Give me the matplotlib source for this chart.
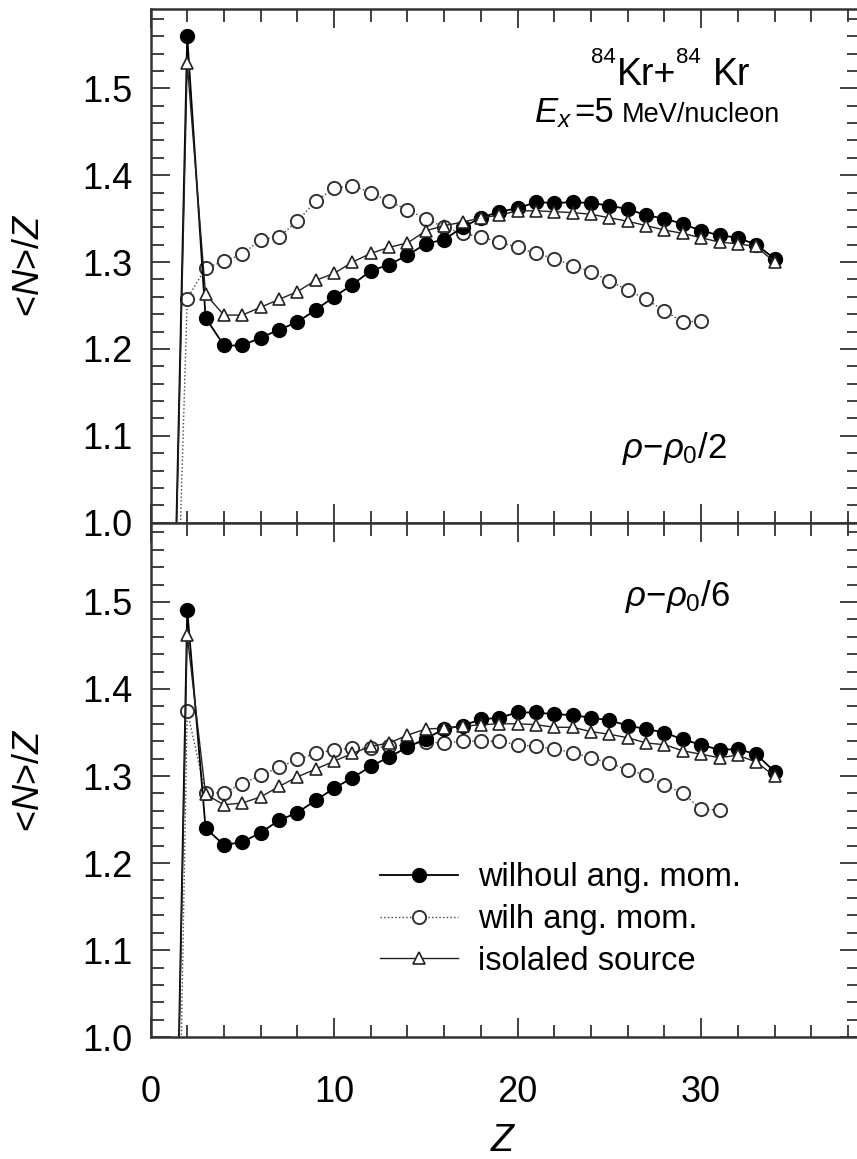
import numpy as np
import matplotlib
matplotlib.use('Agg')
import matplotlib.pyplot as plt
from matplotlib.ticker import MultipleLocator

plt.rcParams['font.family'] = ['Liberation Sans', 'DejaVu Sans']
plt.rcParams['mathtext.fontset'] = 'custom'
plt.rcParams['mathtext.rm'] = 'Liberation Sans'
plt.rcParams['mathtext.it'] = 'Liberation Sans:italic'

# Z values (Z=1 points lie below the axis and are clipped)
z_top_full = list(range(1, 35))
z_top_open = list(range(1, 31))
z_bot_full = list(range(1, 35))
z_bot_open = list(range(1, 32))

# rho = rho0/2
top_without = [0.61, 1.560, 1.236, 1.204, 1.204, 1.213, 1.222, 1.231, 1.245, 1.260,
               1.274, 1.290, 1.297, 1.308, 1.321, 1.326, 1.340, 1.351, 1.358, 1.362,
               1.369, 1.368, 1.369, 1.368, 1.365, 1.361, 1.354, 1.350, 1.344, 1.336,
               1.331, 1.328, 1.320, 1.304]
top_with = [0.55, 1.258, 1.293, 1.301, 1.309, 1.326, 1.329, 1.347, 1.370, 1.385,
            1.388, 1.380, 1.370, 1.360, 1.350, 1.340, 1.333, 1.329, 1.323, 1.317,
            1.310, 1.304, 1.296, 1.289, 1.278, 1.268, 1.257, 1.244, 1.231, 1.232]
top_isolated = [0.60, 1.529, 1.263, 1.239, 1.239, 1.248, 1.257, 1.266, 1.279, 1.287,
                1.300, 1.310, 1.317, 1.322, 1.336, 1.342, 1.346, 1.351, 1.354, 1.359,
                1.359, 1.358, 1.357, 1.355, 1.351, 1.347, 1.342, 1.337, 1.333, 1.328,
                1.323, 1.321, 1.318, 1.300]

# rho = rho0/6
bot_without = [0.40, 1.491, 1.240, 1.221, 1.224, 1.235, 1.249, 1.258, 1.272, 1.286,
               1.298, 1.311, 1.322, 1.333, 1.343, 1.354, 1.358, 1.365, 1.367, 1.373,
               1.373, 1.371, 1.370, 1.367, 1.364, 1.358, 1.354, 1.350, 1.342, 1.336,
               1.330, 1.331, 1.325, 1.305]
bot_with = [0.20, 1.375, 1.280, 1.281, 1.291, 1.301, 1.310, 1.319, 1.326, 1.330,
            1.332, 1.332, 1.334, 1.336, 1.339, 1.338, 1.340, 1.340, 1.340, 1.336,
            1.334, 1.331, 1.327, 1.321, 1.315, 1.307, 1.301, 1.290, 1.280, 1.262,
            1.261]
bot_isolated = [0.40, 1.462, 1.279, 1.267, 1.269, 1.276, 1.288, 1.299, 1.308, 1.317,
                1.326, 1.334, 1.338, 1.347, 1.354, 1.355, 1.357, 1.359, 1.360, 1.360,
                1.359, 1.356, 1.356, 1.351, 1.348, 1.344, 1.338, 1.336, 1.329, 1.325,
                1.321, 1.324, 1.316, 1.300]

labels = ['wilhoul ang. mom.', 'wilh ang. mom.', 'isolaled source']

W, H = 857, 1159
fig = plt.figure(figsize=(W / 100, H / 100), dpi=100)

def fx(x):
    return x / W

def fy(y):
    return 1 - y / H

left, right = 150.5, 859.0
ax1 = fig.add_axes([fx(left), fy(522.7), fx(right - left), (522.7 - 9.3) / H])
ax2 = fig.add_axes([fx(left), fy(1037.2), fx(right - left), (1037.2 - 522.7) / H])


def draw(ax, zf, zo, without, with_, isolated):
    h2, = ax.plot(zo, with_, ls=':', lw=1.0, color='#444444', marker='o', ms=9.5,
                  mfc='white', mec='#333333', mew=1.4, label=labels[1])
    h1, = ax.plot(zf, without, ls='-', lw=1.3, color='black', marker='o', ms=10,
                  mfc='black', mec='black', label=labels[0])
    h3, = ax.plot(zf, isolated, ls='-', lw=1.0, color='#222222', marker='^', ms=8,
                  mfc='white', mec='#222222', mew=1.2, label=labels[2])
    ax.set_xlim(0, 38.6)
    ax.set_ylim(1.0, 1.591)
    ax.xaxis.set_major_locator(MultipleLocator(10))
    ax.xaxis.set_minor_locator(MultipleLocator(2))
    ax.yaxis.set_major_locator(MultipleLocator(0.1))
    ax.yaxis.set_minor_locator(MultipleLocator(0.02))
    ax.yaxis.set_major_formatter(plt.FormatStrFormatter('%.1f'))
    ax.tick_params(which='both', direction='in', top=True, right=True,
                   labelsize=26, width=1.3, color='#333333')
    ax.tick_params(which='major', length=14, pad=13)
    ax.tick_params(which='minor', length=9)
    for s in ax.spines.values():
        s.set_linewidth(1.8)
        s.set_color('#333333')
    return h1, h2, h3


draw(ax1, z_top_full, z_top_open, top_without, top_with, top_isolated)
handles = draw(ax2, z_bot_full, z_bot_open, bot_without, bot_with, bot_isolated)
ax1.tick_params(labelbottom=False)
ax2.tick_params(axis='x', pad=27)

ax2.legend(handles=handles, loc='upper left', bbox_to_anchor=(0.324, 0.34),
           frameon=False, fontsize=23.5, handlelength=2.4, handletextpad=0.6,
           labelspacing=0.33, borderpad=0, borderaxespad=0)

# y labels and x label
for yc in (265.5, 780):
    fig.text(fx(30), fy(yc), r'<$N$>/$Z$', rotation=90, ha='center', va='center',
             fontsize=26)
fig.text(fx(503), fy(1141), r'$Z$', ha='center', va='center', fontsize=27)

renderer = fig.canvas.get_renderer()


def run_text(x0, pieces):
    # pieces: (string, fontsize, baseline y in px, gap before in px)
    x = x0
    for s, size, yb, gap in pieces:
        x += gap
        t = fig.text(fx(x), fy(yb), s, fontsize=size, ha='left', va='baseline')
        x += t.get_window_extent(renderer).width


# reaction annotation
run_text(591, [('84', 16, 63, 0), ('Kr+', 27, 85, 1), ('84', 16, 63, 0),
               ('Kr', 27, 85, 12)])
run_text(534, [(r'$E_x$', 25, 122, 0), ('=5', 25, 122, 2),
               ('MeV/nucleon', 19.5, 122, 8)])

# density labels
fig.text(fx(727), fy(458), r'$\rho$$-$$\rho_0$/2', fontsize=25, ha='right', va='baseline')
fig.text(fx(730), fy(606), r'$\rho$$-$$\rho_0$/6', fontsize=25, ha='right', va='baseline')

plt.savefig('out.png', dpi=100)
